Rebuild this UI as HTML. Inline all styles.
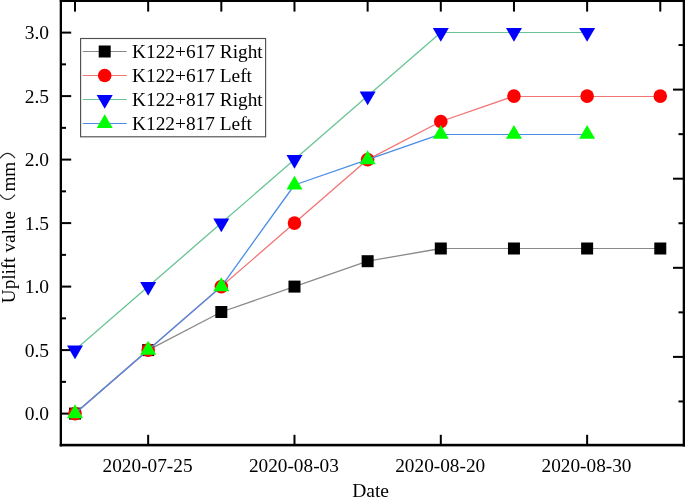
<!DOCTYPE html>
<html><head><meta charset="utf-8"><style>
html,body{margin:0;padding:0;background:#fff;overflow:hidden;}
svg{display:block;will-change:transform;}
.t{font-family:"Liberation Serif",serif;font-size:19.5px;fill:#000;}
</style></head><body>
<svg width="685" height="497" viewBox="0 0 685 497">
<rect width="685" height="497" fill="#fff"/>
<rect x="59.7" y="0" width="2.3" height="446.4" fill="#000"/>
<rect x="682.7" y="0" width="2.3" height="446.5" fill="#000"/>
<rect x="59.8" y="0" width="625.2" height="2" fill="#000"/>
<rect x="59.7" y="443.8" width="625.3" height="2.6" fill="#000"/>
<rect x="74.00" y="0" width="2" height="11.6" fill="#000"/>
<rect x="147.16" y="0" width="2" height="11.6" fill="#000"/>
<rect x="220.32" y="0" width="2" height="11.6" fill="#000"/>
<rect x="293.48" y="0" width="2" height="11.6" fill="#000"/>
<rect x="366.64" y="0" width="2" height="11.6" fill="#000"/>
<rect x="439.80" y="0" width="2" height="11.6" fill="#000"/>
<rect x="512.96" y="0" width="2" height="11.6" fill="#000"/>
<rect x="586.12" y="0" width="2" height="11.6" fill="#000"/>
<rect x="659.28" y="0" width="2" height="11.6" fill="#000"/>
<rect x="147.16" y="434.8" width="2" height="11" fill="#000"/>
<rect x="293.48" y="434.8" width="2" height="11" fill="#000"/>
<rect x="439.80" y="434.8" width="2" height="11" fill="#000"/>
<rect x="586.12" y="434.8" width="2" height="11" fill="#000"/>
<rect x="60" y="412.60" width="11.2" height="2" fill="#000"/>
<rect x="60" y="349.10" width="11.2" height="2" fill="#000"/>
<rect x="60" y="285.60" width="11.2" height="2" fill="#000"/>
<rect x="60" y="222.10" width="11.2" height="2" fill="#000"/>
<rect x="60" y="158.60" width="11.2" height="2" fill="#000"/>
<rect x="60" y="95.10" width="11.2" height="2" fill="#000"/>
<rect x="60" y="31.60" width="11.2" height="2" fill="#000"/>
<rect x="60" y="380.85" width="6" height="2" fill="#000"/>
<rect x="60" y="317.35" width="6" height="2" fill="#000"/>
<rect x="60" y="253.85" width="6" height="2" fill="#000"/>
<rect x="60" y="190.35" width="6" height="2" fill="#000"/>
<rect x="60" y="126.85" width="6" height="2" fill="#000"/>
<rect x="60" y="63.35" width="6" height="2" fill="#000"/>
<rect x="678.5" y="44.05" width="6.5" height="2" fill="#000"/>
<rect x="673" y="88.60" width="12" height="2" fill="#000"/>
<rect x="678.5" y="133.15" width="6.5" height="2" fill="#000"/>
<rect x="673" y="177.70" width="12" height="2" fill="#000"/>
<rect x="678.5" y="222.25" width="6.5" height="2" fill="#000"/>
<rect x="673" y="266.80" width="12" height="2" fill="#000"/>
<rect x="678.5" y="311.35" width="6.5" height="2" fill="#000"/>
<rect x="673" y="355.90" width="12" height="2" fill="#000"/>
<rect x="678.5" y="400.45" width="6.5" height="2" fill="#000"/>
<text x="49" y="420.20" text-anchor="end" class="t">0.0</text>
<text x="49" y="356.70" text-anchor="end" class="t">0.5</text>
<text x="49" y="293.20" text-anchor="end" class="t">1.0</text>
<text x="49" y="229.70" text-anchor="end" class="t">1.5</text>
<text x="49" y="166.20" text-anchor="end" class="t">2.0</text>
<text x="49" y="102.70" text-anchor="end" class="t">2.5</text>
<text x="49" y="39.20" text-anchor="end" class="t">3.0</text>
<text x="147.56" y="472" text-anchor="middle" class="t" style="font-size:19.3px">2020-07-25</text>
<text x="293.88" y="472" text-anchor="middle" class="t" style="font-size:19.3px">2020-08-03</text>
<text x="440.20" y="472" text-anchor="middle" class="t" style="font-size:19.3px">2020-08-20</text>
<text x="586.52" y="472" text-anchor="middle" class="t" style="font-size:19.3px">2020-08-30</text>
<text x="370.6" y="497" text-anchor="middle" class="t">Date</text>
<text transform="translate(15,303.2) rotate(-90)" class="t" style="font-size:19.2px">Uplift value</text>
<text transform="translate(15,191.6) rotate(-90)" class="t" style="font-size:19.2px">mm</text>
<path d="M0,194.5 Q7.5,204.1 15,194.6" fill="none" stroke="#2a2a2a" stroke-width="1.15"/>
<path d="M0,158.3 Q7.5,148.5 15,158.1" fill="none" stroke="#2a2a2a" stroke-width="1.1"/>
<line x1="75.00" y1="413.60" x2="148.16" y2="350.10" stroke="#8a8a8a" stroke-width="1.3"/>
<line x1="148.16" y1="350.10" x2="221.32" y2="312.00" stroke="#8a8a8a" stroke-width="1.3"/>
<line x1="221.32" y1="312.00" x2="294.48" y2="286.60" stroke="#8a8a8a" stroke-width="1.3"/>
<line x1="294.48" y1="286.60" x2="367.64" y2="261.20" stroke="#8a8a8a" stroke-width="1.3"/>
<line x1="367.64" y1="261.20" x2="440.80" y2="248.50" stroke="#8a8a8a" stroke-width="1.3"/>
<line x1="440.80" y1="248.5" x2="513.96" y2="248.5" stroke="#8a8a8a" stroke-width="1.1"/>
<line x1="513.96" y1="248.5" x2="587.12" y2="248.5" stroke="#8a8a8a" stroke-width="1.1"/>
<line x1="587.12" y1="248.5" x2="660.28" y2="248.5" stroke="#8a8a8a" stroke-width="1.1"/>
<rect x="69.00" y="407.60" width="12" height="12" fill="#000"/>
<rect x="142.16" y="344.10" width="12" height="12" fill="#000"/>
<rect x="215.32" y="306.00" width="12" height="12" fill="#000"/>
<rect x="288.48" y="280.60" width="12" height="12" fill="#000"/>
<rect x="361.64" y="255.20" width="12" height="12" fill="#000"/>
<rect x="434.80" y="242.50" width="12" height="12" fill="#000"/>
<rect x="507.96" y="242.50" width="12" height="12" fill="#000"/>
<rect x="581.12" y="242.50" width="12" height="12" fill="#000"/>
<rect x="654.28" y="242.50" width="12" height="12" fill="#000"/>
<line x1="75.00" y1="413.60" x2="148.16" y2="350.10" stroke="#f27474" stroke-width="1.3"/>
<line x1="148.16" y1="350.10" x2="221.32" y2="286.60" stroke="#f27474" stroke-width="1.3"/>
<line x1="221.32" y1="286.60" x2="294.48" y2="223.10" stroke="#f27474" stroke-width="1.3"/>
<line x1="294.48" y1="223.10" x2="367.64" y2="159.60" stroke="#f27474" stroke-width="1.3"/>
<line x1="367.64" y1="159.60" x2="440.80" y2="121.50" stroke="#f27474" stroke-width="1.3"/>
<line x1="440.80" y1="121.50" x2="513.96" y2="96.10" stroke="#f27474" stroke-width="1.3"/>
<line x1="513.96" y1="96.5" x2="587.12" y2="96.5" stroke="#f27474" stroke-width="1.1"/>
<line x1="587.12" y1="96.5" x2="660.28" y2="96.5" stroke="#f27474" stroke-width="1.1"/>
<circle cx="75.00" cy="413.60" r="6.8" fill="#f00"/>
<circle cx="148.16" cy="350.10" r="6.8" fill="#f00"/>
<circle cx="221.32" cy="286.60" r="6.8" fill="#f00"/>
<circle cx="294.48" cy="223.10" r="6.8" fill="#f00"/>
<circle cx="367.64" cy="159.60" r="6.8" fill="#f00"/>
<circle cx="440.80" cy="121.50" r="6.8" fill="#f00"/>
<circle cx="513.96" cy="96.10" r="6.8" fill="#f00"/>
<circle cx="587.12" cy="96.10" r="6.8" fill="#f00"/>
<circle cx="660.28" cy="96.10" r="6.8" fill="#f00"/>
<line x1="75.00" y1="350.10" x2="148.16" y2="286.60" stroke="#68c494" stroke-width="1.3"/>
<line x1="148.16" y1="286.60" x2="221.32" y2="223.10" stroke="#68c494" stroke-width="1.3"/>
<line x1="221.32" y1="223.10" x2="294.48" y2="159.60" stroke="#68c494" stroke-width="1.3"/>
<line x1="294.48" y1="159.60" x2="367.64" y2="96.10" stroke="#68c494" stroke-width="1.3"/>
<line x1="367.64" y1="96.10" x2="440.80" y2="32.60" stroke="#68c494" stroke-width="1.3"/>
<line x1="440.80" y1="32.5" x2="513.96" y2="32.5" stroke="#68c494" stroke-width="1.1"/>
<line x1="513.96" y1="32.5" x2="587.12" y2="32.5" stroke="#68c494" stroke-width="1.1"/>
<polygon points="67.00,345.48 83.00,345.48 75.00,359.34" fill="#00f"/>
<polygon points="140.16,281.98 156.16,281.98 148.16,295.84" fill="#00f"/>
<polygon points="213.32,218.48 229.32,218.48 221.32,232.34" fill="#00f"/>
<polygon points="286.48,154.98 302.48,154.98 294.48,168.84" fill="#00f"/>
<polygon points="359.64,91.48 375.64,91.48 367.64,105.34" fill="#00f"/>
<polygon points="432.80,27.98 448.80,27.98 440.80,41.84" fill="#00f"/>
<polygon points="505.96,27.98 521.96,27.98 513.96,41.84" fill="#00f"/>
<polygon points="579.12,27.98 595.12,27.98 587.12,41.84" fill="#00f"/>
<line x1="75.00" y1="413.60" x2="148.16" y2="350.10" stroke="#4a8de6" stroke-width="1.3"/>
<line x1="148.16" y1="350.10" x2="221.32" y2="286.60" stroke="#4a8de6" stroke-width="1.3"/>
<line x1="221.32" y1="286.60" x2="294.48" y2="185.00" stroke="#4a8de6" stroke-width="1.3"/>
<line x1="294.48" y1="185.00" x2="367.64" y2="159.60" stroke="#4a8de6" stroke-width="1.3"/>
<line x1="367.64" y1="159.60" x2="440.80" y2="134.20" stroke="#4a8de6" stroke-width="1.3"/>
<line x1="440.80" y1="134.5" x2="513.96" y2="134.5" stroke="#4a8de6" stroke-width="1.1"/>
<line x1="513.96" y1="134.5" x2="587.12" y2="134.5" stroke="#4a8de6" stroke-width="1.1"/>
<polygon points="67.00,418.22 83.00,418.22 75.00,404.36" fill="#0f0"/>
<polygon points="140.16,354.72 156.16,354.72 148.16,340.86" fill="#0f0"/>
<polygon points="213.32,291.22 229.32,291.22 221.32,277.36" fill="#0f0"/>
<polygon points="286.48,189.62 302.48,189.62 294.48,175.76" fill="#0f0"/>
<polygon points="359.64,164.22 375.64,164.22 367.64,150.36" fill="#0f0"/>
<polygon points="432.80,138.82 448.80,138.82 440.80,124.96" fill="#0f0"/>
<polygon points="505.96,138.82 521.96,138.82 513.96,124.96" fill="#0f0"/>
<polygon points="579.12,138.82 595.12,138.82 587.12,124.96" fill="#0f0"/>
<rect x="80.6" y="38.5" width="185" height="98.3" fill="#fff" stroke="#505050" stroke-width="1.15"/>
<line x1="82.8" y1="51.5" x2="126.7" y2="51.5" stroke="#8a8a8a" stroke-width="1"/>
<rect x="98.70" y="45.50" width="12" height="12" fill="#000"/>
<text x="132" y="58.10" class="t" style="font-size:19.35px">K122+617 Right</text>
<line x1="82.8" y1="75.5" x2="126.7" y2="75.5" stroke="#f27474" stroke-width="1"/>
<circle cx="104.70" cy="75.50" r="6.8" fill="#f00"/>
<text x="132" y="82.10" class="t" style="font-size:19.35px">K122+617 Left</text>
<line x1="82.8" y1="99.5" x2="126.7" y2="99.5" stroke="#68c494" stroke-width="1"/>
<polygon points="96.70,94.88 112.70,94.88 104.70,108.74" fill="#00f"/>
<text x="132" y="106.10" class="t" style="font-size:19.35px">K122+817 Right</text>
<line x1="82.8" y1="123.5" x2="126.7" y2="123.5" stroke="#4a8de6" stroke-width="1"/>
<polygon points="96.70,128.12 112.70,128.12 104.70,114.26" fill="#0f0"/>
<text x="132" y="130.10" class="t" style="font-size:19.35px">K122+817 Left</text>
</svg>
</body></html>
